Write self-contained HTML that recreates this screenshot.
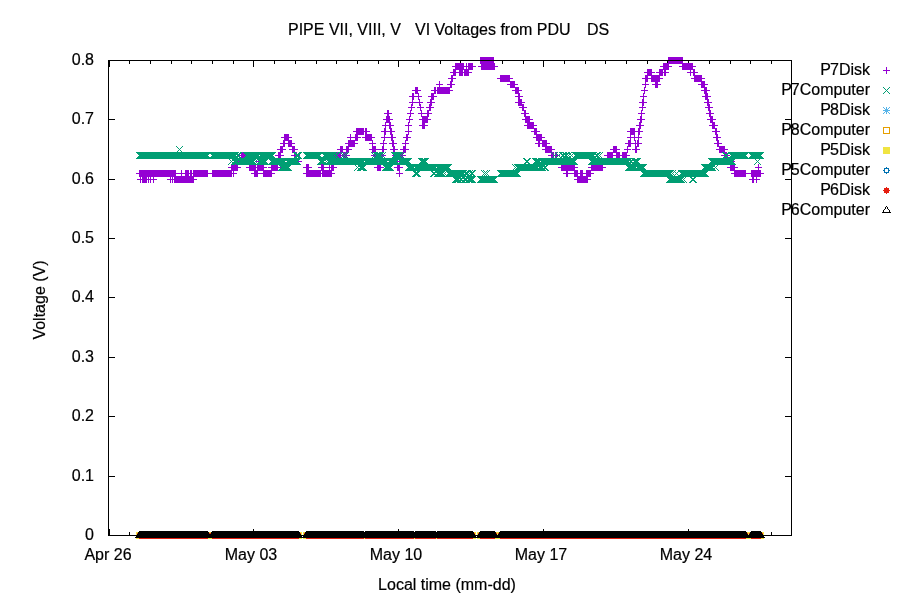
<!DOCTYPE html>
<html lang="en"><head><meta charset="utf-8"><title>PIPE Voltages from PDU</title>
<style>
html,body{margin:0;padding:0;background:#fff;}
body{width:900px;height:600px;position:relative;overflow:hidden;font-family:"Liberation Sans",Arial,sans-serif;font-size:16px;color:#000;}
.t{position:absolute;white-space:pre;line-height:20px;height:20px;-webkit-text-stroke:0.2px #000;}
.r{text-align:right;}
.lg::first-letter{letter-spacing:-1px;}
.c{text-align:center;}
</style></head><body>
<svg width="900" height="600" viewBox="0 0 900 600" shape-rendering="crispEdges" style="position:absolute;left:0;top:0"><path fill="#000000" d="M108 60h684v1h-684zM108 61h2v1h-2zM129 61h1v1h-1zM150 61h1v1h-1zM171 61h1v1h-1zM191 61h1v1h-1zM212 61h1v1h-1zM233 61h1v1h-1zM253 61h1v1h-1zM274 61h1v1h-1zM295 61h1v1h-1zM316 61h1v1h-1zM336 61h1v1h-1zM357 61h1v1h-1zM378 61h1v1h-1zM398 61h1v1h-1zM419 61h1v1h-1zM440 61h1v1h-1zM460 61h1v1h-1zM502 61h1v1h-1zM523 61h1v1h-1zM543 61h1v1h-1zM564 61h1v1h-1zM585 61h1v1h-1zM605 61h1v1h-1zM626 61h1v1h-1zM647 61h1v1h-1zM667 61h1v1h-1zM688 61h1v1h-1zM709 61h1v1h-1zM730 61h1v1h-1zM750 61h1v1h-1zM771 61h1v1h-1zM791 61h1v1h-1zM108 62h2v1h-2zM129 62h1v1h-1zM150 62h1v1h-1zM171 62h1v1h-1zM191 62h1v1h-1zM212 62h1v1h-1zM233 62h1v1h-1zM253 62h1v1h-1zM274 62h1v1h-1zM295 62h1v1h-1zM316 62h1v1h-1zM336 62h1v1h-1zM357 62h1v1h-1zM378 62h1v1h-1zM398 62h1v1h-1zM419 62h1v1h-1zM440 62h1v1h-1zM460 62h1v1h-1zM502 62h1v1h-1zM523 62h1v1h-1zM543 62h1v1h-1zM564 62h1v1h-1zM585 62h1v1h-1zM605 62h1v1h-1zM626 62h1v1h-1zM647 62h1v1h-1zM667 62h1v1h-1zM688 62h1v1h-1zM709 62h1v1h-1zM730 62h1v1h-1zM750 62h1v1h-1zM771 62h1v1h-1zM791 62h1v1h-1zM108 63h2v1h-2zM129 63h1v1h-1zM150 63h1v1h-1zM171 63h1v1h-1zM191 63h1v1h-1zM212 63h1v1h-1zM233 63h1v1h-1zM253 63h1v1h-1zM274 63h1v1h-1zM295 63h1v1h-1zM316 63h1v1h-1zM336 63h1v1h-1zM357 63h1v1h-1zM378 63h1v1h-1zM398 63h1v1h-1zM419 63h1v1h-1zM440 63h1v1h-1zM502 63h1v1h-1zM523 63h1v1h-1zM543 63h1v1h-1zM564 63h1v1h-1zM585 63h1v1h-1zM605 63h1v1h-1zM626 63h1v1h-1zM647 63h1v1h-1zM709 63h1v1h-1zM730 63h1v1h-1zM750 63h1v1h-1zM771 63h1v1h-1zM791 63h1v1h-1zM108 64h2v1h-2zM253 64h1v1h-1zM398 64h1v1h-1zM543 64h1v1h-1zM791 64h1v1h-1zM108 65h2v1h-2zM253 65h1v1h-1zM398 65h1v1h-1zM543 65h1v1h-1zM791 65h1v1h-1zM108 66h2v1h-2zM253 66h1v1h-1zM398 66h1v1h-1zM543 66h1v1h-1zM791 66h1v1h-1zM108 67h1v1h-1zM791 67h1v1h-1zM108 68h1v1h-1zM791 68h1v1h-1zM108 69h1v1h-1zM791 69h1v1h-1zM108 70h1v1h-1zM791 70h1v1h-1zM108 71h1v1h-1zM791 71h1v1h-1zM108 72h1v1h-1zM791 72h1v1h-1zM108 73h1v1h-1zM791 73h1v1h-1zM108 74h1v1h-1zM791 74h1v1h-1zM108 75h1v1h-1zM791 75h1v1h-1zM108 76h1v1h-1zM791 76h1v1h-1zM108 77h1v1h-1zM791 77h1v1h-1zM108 78h1v1h-1zM791 78h1v1h-1zM108 79h1v1h-1zM791 79h1v1h-1zM108 80h1v1h-1zM791 80h1v1h-1zM108 81h1v1h-1zM791 81h1v1h-1zM108 82h1v1h-1zM791 82h1v1h-1zM108 83h1v1h-1zM791 83h1v1h-1zM108 84h1v1h-1zM791 84h1v1h-1zM108 85h1v1h-1zM791 85h1v1h-1zM108 86h1v1h-1zM791 86h1v1h-1zM108 87h1v1h-1zM791 87h1v1h-1zM108 88h1v1h-1zM791 88h1v1h-1zM108 89h1v1h-1zM791 89h1v1h-1zM108 90h1v1h-1zM791 90h1v1h-1zM108 91h1v1h-1zM791 91h1v1h-1zM108 92h1v1h-1zM791 92h1v1h-1zM108 93h1v1h-1zM791 93h1v1h-1zM108 94h1v1h-1zM791 94h1v1h-1zM108 95h1v1h-1zM791 95h1v1h-1zM108 96h1v1h-1zM791 96h1v1h-1zM108 97h1v1h-1zM791 97h1v1h-1zM108 98h1v1h-1zM791 98h1v1h-1zM108 99h1v1h-1zM791 99h1v1h-1zM108 100h1v1h-1zM791 100h1v1h-1zM108 101h1v1h-1zM791 101h1v1h-1zM108 102h1v1h-1zM791 102h1v1h-1zM108 103h1v1h-1zM791 103h1v1h-1zM108 104h1v1h-1zM791 104h1v1h-1zM108 105h1v1h-1zM791 105h1v1h-1zM108 106h1v1h-1zM791 106h1v1h-1zM108 107h1v1h-1zM791 107h1v1h-1zM108 108h1v1h-1zM791 108h1v1h-1zM108 109h1v1h-1zM791 109h1v1h-1zM108 110h1v1h-1zM791 110h1v1h-1zM108 111h1v1h-1zM791 111h1v1h-1zM108 112h1v1h-1zM791 112h1v1h-1zM108 113h1v1h-1zM791 113h1v1h-1zM108 114h1v1h-1zM791 114h1v1h-1zM108 115h1v1h-1zM791 115h1v1h-1zM108 116h1v1h-1zM791 116h1v1h-1zM108 117h1v1h-1zM791 117h1v1h-1zM108 118h1v1h-1zM791 118h1v1h-1zM108 119h7v1h-7zM785 119h7v1h-7zM108 120h1v1h-1zM791 120h1v1h-1zM108 121h1v1h-1zM791 121h1v1h-1zM108 122h1v1h-1zM791 122h1v1h-1zM108 123h1v1h-1zM791 123h1v1h-1zM108 124h1v1h-1zM791 124h1v1h-1zM108 125h1v1h-1zM791 125h1v1h-1zM108 126h1v1h-1zM791 126h1v1h-1zM108 127h1v1h-1zM791 127h1v1h-1zM108 128h1v1h-1zM791 128h1v1h-1zM108 129h1v1h-1zM791 129h1v1h-1zM108 130h1v1h-1zM791 130h1v1h-1zM108 131h1v1h-1zM791 131h1v1h-1zM108 132h1v1h-1zM791 132h1v1h-1zM108 133h1v1h-1zM791 133h1v1h-1zM108 134h1v1h-1zM791 134h1v1h-1zM108 135h1v1h-1zM791 135h1v1h-1zM108 136h1v1h-1zM791 136h1v1h-1zM108 137h1v1h-1zM791 137h1v1h-1zM108 138h1v1h-1zM791 138h1v1h-1zM108 139h1v1h-1zM791 139h1v1h-1zM108 140h1v1h-1zM791 140h1v1h-1zM108 141h1v1h-1zM791 141h1v1h-1zM108 142h1v1h-1zM791 142h1v1h-1zM108 143h1v1h-1zM791 143h1v1h-1zM108 144h1v1h-1zM791 144h1v1h-1zM108 145h1v1h-1zM791 145h1v1h-1zM108 146h1v1h-1zM791 146h1v1h-1zM108 147h1v1h-1zM791 147h1v1h-1zM108 148h1v1h-1zM791 148h1v1h-1zM108 149h1v1h-1zM791 149h1v1h-1zM108 150h1v1h-1zM791 150h1v1h-1zM108 151h1v1h-1zM791 151h1v1h-1zM108 152h1v1h-1zM791 152h1v1h-1zM108 153h1v1h-1zM791 153h1v1h-1zM108 154h1v1h-1zM791 154h1v1h-1zM108 155h1v1h-1zM791 155h1v1h-1zM108 156h1v1h-1zM791 156h1v1h-1zM108 157h1v1h-1zM791 157h1v1h-1zM108 158h1v1h-1zM791 158h1v1h-1zM108 159h1v1h-1zM791 159h1v1h-1zM108 160h1v1h-1zM791 160h1v1h-1zM108 161h1v1h-1zM791 161h1v1h-1zM108 162h1v1h-1zM791 162h1v1h-1zM108 163h1v1h-1zM791 163h1v1h-1zM108 164h1v1h-1zM791 164h1v1h-1zM108 165h1v1h-1zM791 165h1v1h-1zM108 166h1v1h-1zM791 166h1v1h-1zM108 167h1v1h-1zM791 167h1v1h-1zM108 168h1v1h-1zM791 168h1v1h-1zM108 169h1v1h-1zM791 169h1v1h-1zM108 170h1v1h-1zM791 170h1v1h-1zM108 171h1v1h-1zM791 171h1v1h-1zM108 172h1v1h-1zM791 172h1v1h-1zM108 173h1v1h-1zM791 173h1v1h-1zM108 174h1v1h-1zM791 174h1v1h-1zM108 175h1v1h-1zM791 175h1v1h-1zM108 176h1v1h-1zM791 176h1v1h-1zM108 177h1v1h-1zM791 177h1v1h-1zM108 178h1v1h-1zM791 178h1v1h-1zM108 179h7v1h-7zM785 179h7v1h-7zM108 180h1v1h-1zM791 180h1v1h-1zM108 181h1v1h-1zM791 181h1v1h-1zM108 182h1v1h-1zM791 182h1v1h-1zM108 183h1v1h-1zM791 183h1v1h-1zM108 184h1v1h-1zM791 184h1v1h-1zM108 185h1v1h-1zM791 185h1v1h-1zM108 186h1v1h-1zM791 186h1v1h-1zM108 187h1v1h-1zM791 187h1v1h-1zM108 188h1v1h-1zM791 188h1v1h-1zM108 189h1v1h-1zM791 189h1v1h-1zM108 190h1v1h-1zM791 190h1v1h-1zM108 191h1v1h-1zM791 191h1v1h-1zM108 192h1v1h-1zM791 192h1v1h-1zM108 193h1v1h-1zM791 193h1v1h-1zM108 194h1v1h-1zM791 194h1v1h-1zM108 195h1v1h-1zM791 195h1v1h-1zM108 196h1v1h-1zM791 196h1v1h-1zM108 197h1v1h-1zM791 197h1v1h-1zM108 198h1v1h-1zM791 198h1v1h-1zM108 199h1v1h-1zM791 199h1v1h-1zM108 200h1v1h-1zM791 200h1v1h-1zM108 201h1v1h-1zM791 201h1v1h-1zM108 202h1v1h-1zM791 202h1v1h-1zM108 203h1v1h-1zM791 203h1v1h-1zM108 204h1v1h-1zM791 204h1v1h-1zM108 205h1v1h-1zM791 205h1v1h-1zM108 206h1v1h-1zM791 206h1v1h-1zM886 206h1v1h-1zM108 207h1v1h-1zM791 207h1v1h-1zM885 207h1v1h-1zM887 207h1v1h-1zM108 208h1v1h-1zM791 208h1v1h-1zM885 208h1v1h-1zM887 208h1v1h-1zM108 209h1v1h-1zM791 209h1v1h-1zM884 209h1v1h-1zM888 209h1v1h-1zM108 210h1v1h-1zM791 210h1v1h-1zM883 210h1v1h-1zM889 210h1v1h-1zM108 211h1v1h-1zM791 211h1v1h-1zM883 211h1v1h-1zM889 211h1v1h-1zM108 212h1v1h-1zM791 212h1v1h-1zM882 212h9v1h-9zM108 213h1v1h-1zM791 213h1v1h-1zM108 214h1v1h-1zM791 214h1v1h-1zM108 215h1v1h-1zM791 215h1v1h-1zM108 216h1v1h-1zM791 216h1v1h-1zM108 217h1v1h-1zM791 217h1v1h-1zM108 218h1v1h-1zM791 218h1v1h-1zM108 219h1v1h-1zM791 219h1v1h-1zM108 220h1v1h-1zM791 220h1v1h-1zM108 221h1v1h-1zM791 221h1v1h-1zM108 222h1v1h-1zM791 222h1v1h-1zM108 223h1v1h-1zM791 223h1v1h-1zM108 224h1v1h-1zM791 224h1v1h-1zM108 225h1v1h-1zM791 225h1v1h-1zM108 226h1v1h-1zM791 226h1v1h-1zM108 227h1v1h-1zM791 227h1v1h-1zM108 228h1v1h-1zM791 228h1v1h-1zM108 229h1v1h-1zM791 229h1v1h-1zM108 230h1v1h-1zM791 230h1v1h-1zM108 231h1v1h-1zM791 231h1v1h-1zM108 232h1v1h-1zM791 232h1v1h-1zM108 233h1v1h-1zM791 233h1v1h-1zM108 234h1v1h-1zM791 234h1v1h-1zM108 235h1v1h-1zM791 235h1v1h-1zM108 236h1v1h-1zM791 236h1v1h-1zM108 237h1v1h-1zM791 237h1v1h-1zM108 238h7v1h-7zM785 238h7v1h-7zM108 239h1v1h-1zM791 239h1v1h-1zM108 240h1v1h-1zM791 240h1v1h-1zM108 241h1v1h-1zM791 241h1v1h-1zM108 242h1v1h-1zM791 242h1v1h-1zM108 243h1v1h-1zM791 243h1v1h-1zM108 244h1v1h-1zM791 244h1v1h-1zM108 245h1v1h-1zM791 245h1v1h-1zM108 246h1v1h-1zM791 246h1v1h-1zM108 247h1v1h-1zM791 247h1v1h-1zM108 248h1v1h-1zM791 248h1v1h-1zM108 249h1v1h-1zM791 249h1v1h-1zM108 250h1v1h-1zM791 250h1v1h-1zM108 251h1v1h-1zM791 251h1v1h-1zM108 252h1v1h-1zM791 252h1v1h-1zM108 253h1v1h-1zM791 253h1v1h-1zM108 254h1v1h-1zM791 254h1v1h-1zM108 255h1v1h-1zM791 255h1v1h-1zM108 256h1v1h-1zM791 256h1v1h-1zM108 257h1v1h-1zM791 257h1v1h-1zM108 258h1v1h-1zM791 258h1v1h-1zM108 259h1v1h-1zM791 259h1v1h-1zM108 260h1v1h-1zM791 260h1v1h-1zM108 261h1v1h-1zM791 261h1v1h-1zM108 262h1v1h-1zM791 262h1v1h-1zM108 263h1v1h-1zM791 263h1v1h-1zM108 264h1v1h-1zM791 264h1v1h-1zM108 265h1v1h-1zM791 265h1v1h-1zM108 266h1v1h-1zM791 266h1v1h-1zM108 267h1v1h-1zM791 267h1v1h-1zM108 268h1v1h-1zM791 268h1v1h-1zM108 269h1v1h-1zM791 269h1v1h-1zM108 270h1v1h-1zM791 270h1v1h-1zM108 271h1v1h-1zM791 271h1v1h-1zM108 272h1v1h-1zM791 272h1v1h-1zM108 273h1v1h-1zM791 273h1v1h-1zM108 274h1v1h-1zM791 274h1v1h-1zM108 275h1v1h-1zM791 275h1v1h-1zM108 276h1v1h-1zM791 276h1v1h-1zM108 277h1v1h-1zM791 277h1v1h-1zM108 278h1v1h-1zM791 278h1v1h-1zM108 279h1v1h-1zM791 279h1v1h-1zM108 280h1v1h-1zM791 280h1v1h-1zM108 281h1v1h-1zM791 281h1v1h-1zM108 282h1v1h-1zM791 282h1v1h-1zM108 283h1v1h-1zM791 283h1v1h-1zM108 284h1v1h-1zM791 284h1v1h-1zM108 285h1v1h-1zM791 285h1v1h-1zM108 286h1v1h-1zM791 286h1v1h-1zM108 287h1v1h-1zM791 287h1v1h-1zM108 288h1v1h-1zM791 288h1v1h-1zM108 289h1v1h-1zM791 289h1v1h-1zM108 290h1v1h-1zM791 290h1v1h-1zM108 291h1v1h-1zM791 291h1v1h-1zM108 292h1v1h-1zM791 292h1v1h-1zM108 293h1v1h-1zM791 293h1v1h-1zM108 294h1v1h-1zM791 294h1v1h-1zM108 295h1v1h-1zM791 295h1v1h-1zM108 296h1v1h-1zM791 296h1v1h-1zM108 297h7v1h-7zM785 297h7v1h-7zM108 298h1v1h-1zM791 298h1v1h-1zM108 299h1v1h-1zM791 299h1v1h-1zM108 300h1v1h-1zM791 300h1v1h-1zM108 301h1v1h-1zM791 301h1v1h-1zM108 302h1v1h-1zM791 302h1v1h-1zM108 303h1v1h-1zM791 303h1v1h-1zM108 304h1v1h-1zM791 304h1v1h-1zM108 305h1v1h-1zM791 305h1v1h-1zM108 306h1v1h-1zM791 306h1v1h-1zM108 307h1v1h-1zM791 307h1v1h-1zM108 308h1v1h-1zM791 308h1v1h-1zM108 309h1v1h-1zM791 309h1v1h-1zM108 310h1v1h-1zM791 310h1v1h-1zM108 311h1v1h-1zM791 311h1v1h-1zM108 312h1v1h-1zM791 312h1v1h-1zM108 313h1v1h-1zM791 313h1v1h-1zM108 314h1v1h-1zM791 314h1v1h-1zM108 315h1v1h-1zM791 315h1v1h-1zM108 316h1v1h-1zM791 316h1v1h-1zM108 317h1v1h-1zM791 317h1v1h-1zM108 318h1v1h-1zM791 318h1v1h-1zM108 319h1v1h-1zM791 319h1v1h-1zM108 320h1v1h-1zM791 320h1v1h-1zM108 321h1v1h-1zM791 321h1v1h-1zM108 322h1v1h-1zM791 322h1v1h-1zM108 323h1v1h-1zM791 323h1v1h-1zM108 324h1v1h-1zM791 324h1v1h-1zM108 325h1v1h-1zM791 325h1v1h-1zM108 326h1v1h-1zM791 326h1v1h-1zM108 327h1v1h-1zM791 327h1v1h-1zM108 328h1v1h-1zM791 328h1v1h-1zM108 329h1v1h-1zM791 329h1v1h-1zM108 330h1v1h-1zM791 330h1v1h-1zM108 331h1v1h-1zM791 331h1v1h-1zM108 332h1v1h-1zM791 332h1v1h-1zM108 333h1v1h-1zM791 333h1v1h-1zM108 334h1v1h-1zM791 334h1v1h-1zM108 335h1v1h-1zM791 335h1v1h-1zM108 336h1v1h-1zM791 336h1v1h-1zM108 337h1v1h-1zM791 337h1v1h-1zM108 338h1v1h-1zM791 338h1v1h-1zM108 339h1v1h-1zM791 339h1v1h-1zM108 340h1v1h-1zM791 340h1v1h-1zM108 341h1v1h-1zM791 341h1v1h-1zM108 342h1v1h-1zM791 342h1v1h-1zM108 343h1v1h-1zM791 343h1v1h-1zM108 344h1v1h-1zM791 344h1v1h-1zM108 345h1v1h-1zM791 345h1v1h-1zM108 346h1v1h-1zM791 346h1v1h-1zM108 347h1v1h-1zM791 347h1v1h-1zM108 348h1v1h-1zM791 348h1v1h-1zM108 349h1v1h-1zM791 349h1v1h-1zM108 350h1v1h-1zM791 350h1v1h-1zM108 351h1v1h-1zM791 351h1v1h-1zM108 352h1v1h-1zM791 352h1v1h-1zM108 353h1v1h-1zM791 353h1v1h-1zM108 354h1v1h-1zM791 354h1v1h-1zM108 355h1v1h-1zM791 355h1v1h-1zM108 356h1v1h-1zM791 356h1v1h-1zM108 357h7v1h-7zM785 357h7v1h-7zM108 358h1v1h-1zM791 358h1v1h-1zM108 359h1v1h-1zM791 359h1v1h-1zM108 360h1v1h-1zM791 360h1v1h-1zM108 361h1v1h-1zM791 361h1v1h-1zM108 362h1v1h-1zM791 362h1v1h-1zM108 363h1v1h-1zM791 363h1v1h-1zM108 364h1v1h-1zM791 364h1v1h-1zM108 365h1v1h-1zM791 365h1v1h-1zM108 366h1v1h-1zM791 366h1v1h-1zM108 367h1v1h-1zM791 367h1v1h-1zM108 368h1v1h-1zM791 368h1v1h-1zM108 369h1v1h-1zM791 369h1v1h-1zM108 370h1v1h-1zM791 370h1v1h-1zM108 371h1v1h-1zM791 371h1v1h-1zM108 372h1v1h-1zM791 372h1v1h-1zM108 373h1v1h-1zM791 373h1v1h-1zM108 374h1v1h-1zM791 374h1v1h-1zM108 375h1v1h-1zM791 375h1v1h-1zM108 376h1v1h-1zM791 376h1v1h-1zM108 377h1v1h-1zM791 377h1v1h-1zM108 378h1v1h-1zM791 378h1v1h-1zM108 379h1v1h-1zM791 379h1v1h-1zM108 380h1v1h-1zM791 380h1v1h-1zM108 381h1v1h-1zM791 381h1v1h-1zM108 382h1v1h-1zM791 382h1v1h-1zM108 383h1v1h-1zM791 383h1v1h-1zM108 384h1v1h-1zM791 384h1v1h-1zM108 385h1v1h-1zM791 385h1v1h-1zM108 386h1v1h-1zM791 386h1v1h-1zM108 387h1v1h-1zM791 387h1v1h-1zM108 388h1v1h-1zM791 388h1v1h-1zM108 389h1v1h-1zM791 389h1v1h-1zM108 390h1v1h-1zM791 390h1v1h-1zM108 391h1v1h-1zM791 391h1v1h-1zM108 392h1v1h-1zM791 392h1v1h-1zM108 393h1v1h-1zM791 393h1v1h-1zM108 394h1v1h-1zM791 394h1v1h-1zM108 395h1v1h-1zM791 395h1v1h-1zM108 396h1v1h-1zM791 396h1v1h-1zM108 397h1v1h-1zM791 397h1v1h-1zM108 398h1v1h-1zM791 398h1v1h-1zM108 399h1v1h-1zM791 399h1v1h-1zM108 400h1v1h-1zM791 400h1v1h-1zM108 401h1v1h-1zM791 401h1v1h-1zM108 402h1v1h-1zM791 402h1v1h-1zM108 403h1v1h-1zM791 403h1v1h-1zM108 404h1v1h-1zM791 404h1v1h-1zM108 405h1v1h-1zM791 405h1v1h-1zM108 406h1v1h-1zM791 406h1v1h-1zM108 407h1v1h-1zM791 407h1v1h-1zM108 408h1v1h-1zM791 408h1v1h-1zM108 409h1v1h-1zM791 409h1v1h-1zM108 410h1v1h-1zM791 410h1v1h-1zM108 411h1v1h-1zM791 411h1v1h-1zM108 412h1v1h-1zM791 412h1v1h-1zM108 413h1v1h-1zM791 413h1v1h-1zM108 414h1v1h-1zM791 414h1v1h-1zM108 415h1v1h-1zM791 415h1v1h-1zM108 416h7v1h-7zM785 416h7v1h-7zM108 417h1v1h-1zM791 417h1v1h-1zM108 418h1v1h-1zM791 418h1v1h-1zM108 419h1v1h-1zM791 419h1v1h-1zM108 420h1v1h-1zM791 420h1v1h-1zM108 421h1v1h-1zM791 421h1v1h-1zM108 422h1v1h-1zM791 422h1v1h-1zM108 423h1v1h-1zM791 423h1v1h-1zM108 424h1v1h-1zM791 424h1v1h-1zM108 425h1v1h-1zM791 425h1v1h-1zM108 426h1v1h-1zM791 426h1v1h-1zM108 427h1v1h-1zM791 427h1v1h-1zM108 428h1v1h-1zM791 428h1v1h-1zM108 429h1v1h-1zM791 429h1v1h-1zM108 430h1v1h-1zM791 430h1v1h-1zM108 431h1v1h-1zM791 431h1v1h-1zM108 432h1v1h-1zM791 432h1v1h-1zM108 433h1v1h-1zM791 433h1v1h-1zM108 434h1v1h-1zM791 434h1v1h-1zM108 435h1v1h-1zM791 435h1v1h-1zM108 436h1v1h-1zM791 436h1v1h-1zM108 437h1v1h-1zM791 437h1v1h-1zM108 438h1v1h-1zM791 438h1v1h-1zM108 439h1v1h-1zM791 439h1v1h-1zM108 440h1v1h-1zM791 440h1v1h-1zM108 441h1v1h-1zM791 441h1v1h-1zM108 442h1v1h-1zM791 442h1v1h-1zM108 443h1v1h-1zM791 443h1v1h-1zM108 444h1v1h-1zM791 444h1v1h-1zM108 445h1v1h-1zM791 445h1v1h-1zM108 446h1v1h-1zM791 446h1v1h-1zM108 447h1v1h-1zM791 447h1v1h-1zM108 448h1v1h-1zM791 448h1v1h-1zM108 449h1v1h-1zM791 449h1v1h-1zM108 450h1v1h-1zM791 450h1v1h-1zM108 451h1v1h-1zM791 451h1v1h-1zM108 452h1v1h-1zM791 452h1v1h-1zM108 453h1v1h-1zM791 453h1v1h-1zM108 454h1v1h-1zM791 454h1v1h-1zM108 455h1v1h-1zM791 455h1v1h-1zM108 456h1v1h-1zM791 456h1v1h-1zM108 457h1v1h-1zM791 457h1v1h-1zM108 458h1v1h-1zM791 458h1v1h-1zM108 459h1v1h-1zM791 459h1v1h-1zM108 460h1v1h-1zM791 460h1v1h-1zM108 461h1v1h-1zM791 461h1v1h-1zM108 462h1v1h-1zM791 462h1v1h-1zM108 463h1v1h-1zM791 463h1v1h-1zM108 464h1v1h-1zM791 464h1v1h-1zM108 465h1v1h-1zM791 465h1v1h-1zM108 466h1v1h-1zM791 466h1v1h-1zM108 467h1v1h-1zM791 467h1v1h-1zM108 468h1v1h-1zM791 468h1v1h-1zM108 469h1v1h-1zM791 469h1v1h-1zM108 470h1v1h-1zM791 470h1v1h-1zM108 471h1v1h-1zM791 471h1v1h-1zM108 472h1v1h-1zM791 472h1v1h-1zM108 473h1v1h-1zM791 473h1v1h-1zM108 474h1v1h-1zM791 474h1v1h-1zM108 475h1v1h-1zM791 475h1v1h-1zM108 476h7v1h-7zM785 476h7v1h-7zM108 477h1v1h-1zM791 477h1v1h-1zM108 478h1v1h-1zM791 478h1v1h-1zM108 479h1v1h-1zM791 479h1v1h-1zM108 480h1v1h-1zM791 480h1v1h-1zM108 481h1v1h-1zM791 481h1v1h-1zM108 482h1v1h-1zM791 482h1v1h-1zM108 483h1v1h-1zM791 483h1v1h-1zM108 484h1v1h-1zM791 484h1v1h-1zM108 485h1v1h-1zM791 485h1v1h-1zM108 486h1v1h-1zM791 486h1v1h-1zM108 487h1v1h-1zM791 487h1v1h-1zM108 488h1v1h-1zM791 488h1v1h-1zM108 489h1v1h-1zM791 489h1v1h-1zM108 490h1v1h-1zM791 490h1v1h-1zM108 491h1v1h-1zM791 491h1v1h-1zM108 492h1v1h-1zM791 492h1v1h-1zM108 493h1v1h-1zM791 493h1v1h-1zM108 494h1v1h-1zM791 494h1v1h-1zM108 495h1v1h-1zM791 495h1v1h-1zM108 496h1v1h-1zM791 496h1v1h-1zM108 497h1v1h-1zM791 497h1v1h-1zM108 498h1v1h-1zM791 498h1v1h-1zM108 499h1v1h-1zM791 499h1v1h-1zM108 500h1v1h-1zM791 500h1v1h-1zM108 501h1v1h-1zM791 501h1v1h-1zM108 502h1v1h-1zM791 502h1v1h-1zM108 503h1v1h-1zM791 503h1v1h-1zM108 504h1v1h-1zM791 504h1v1h-1zM108 505h1v1h-1zM791 505h1v1h-1zM108 506h1v1h-1zM791 506h1v1h-1zM108 507h1v1h-1zM791 507h1v1h-1zM108 508h1v1h-1zM791 508h1v1h-1zM108 509h1v1h-1zM791 509h1v1h-1zM108 510h1v1h-1zM791 510h1v1h-1zM108 511h1v1h-1zM791 511h1v1h-1zM108 512h1v1h-1zM791 512h1v1h-1zM108 513h1v1h-1zM791 513h1v1h-1zM108 514h1v1h-1zM791 514h1v1h-1zM108 515h1v1h-1zM791 515h1v1h-1zM108 516h1v1h-1zM791 516h1v1h-1zM108 517h1v1h-1zM791 517h1v1h-1zM108 518h1v1h-1zM791 518h1v1h-1zM108 519h1v1h-1zM791 519h1v1h-1zM108 520h1v1h-1zM791 520h1v1h-1zM108 521h1v1h-1zM791 521h1v1h-1zM108 522h1v1h-1zM791 522h1v1h-1zM108 523h1v1h-1zM791 523h1v1h-1zM108 524h1v1h-1zM791 524h1v1h-1zM108 525h1v1h-1zM791 525h1v1h-1zM108 526h1v1h-1zM791 526h1v1h-1zM108 527h1v1h-1zM791 527h1v1h-1zM108 528h1v1h-1zM791 528h1v1h-1zM108 529h2v1h-2zM253 529h1v1h-1zM398 529h1v1h-1zM543 529h1v1h-1zM688 529h1v1h-1zM791 529h1v1h-1zM108 530h2v1h-2zM253 530h1v1h-1zM398 530h1v1h-1zM543 530h1v1h-1zM688 530h1v1h-1zM791 530h1v1h-1zM108 531h2v1h-2zM139 531h69v1h-69zM212 531h87v1h-87zM306 531h58v1h-58zM365 531h49v1h-49zM415 531h21v1h-21zM437 531h36v1h-36zM480 531h15v1h-15zM500 531h246v1h-246zM751 531h10v1h-10zM791 531h1v1h-1zM108 532h2v1h-2zM129 532h1v1h-1zM138 532h71v1h-71zM211 532h89v1h-89zM305 532h169v1h-169zM479 532h17v1h-17zM499 532h248v1h-248zM750 532h12v1h-12zM771 532h1v1h-1zM791 532h1v1h-1zM108 533h2v1h-2zM129 533h1v1h-1zM138 533h71v1h-71zM211 533h89v1h-89zM305 533h169v1h-169zM479 533h17v1h-17zM499 533h248v1h-248zM750 533h12v1h-12zM771 533h1v1h-1zM791 533h1v1h-1zM108 534h2v1h-2zM129 534h1v1h-1zM137 534h164v1h-164zM304 534h171v1h-171zM478 534h19v1h-19zM498 534h250v1h-250zM749 534h14v1h-14zM771 534h1v1h-1zM791 534h1v1h-1zM108 535h684v1h-684zM136 536h166v1h-166zM303 536h173v1h-173zM477 536h287v1h-287zM135 537h630v1h-630z"/><path fill="#9400D3" d="M480 57h14v1h-14zM668 57h15v1h-15zM480 58h14v1h-14zM668 58h15v1h-15zM480 59h14v1h-14zM668 59h15v1h-15zM480 61h14v1h-14zM668 61h15v1h-15zM480 62h14v1h-14zM668 62h15v1h-15zM455 63h9v1h-9zM466 63h1v1h-1zM468 63h5v1h-5zM480 63h15v1h-15zM663 63h30v1h-30zM455 64h9v1h-9zM466 64h1v1h-1zM468 64h5v1h-5zM481 64h14v1h-14zM663 64h6v1h-6zM682 64h11v1h-11zM455 65h9v1h-9zM466 65h1v1h-1zM468 65h5v1h-5zM481 65h14v1h-14zM663 65h6v1h-6zM682 65h11v1h-11zM452 66h24v1h-24zM478 66h20v1h-20zM660 66h12v1h-12zM679 66h17v1h-17zM455 67h9v1h-9zM466 67h1v1h-1zM468 67h5v1h-5zM481 67h14v1h-14zM663 67h6v1h-6zM682 67h11v1h-11zM886 67h1v1h-1zM455 68h9v1h-9zM466 68h1v1h-1zM468 68h5v1h-5zM481 68h14v1h-14zM663 68h6v1h-6zM682 68h11v1h-11zM886 68h1v1h-1zM453 69h20v1h-20zM481 69h14v1h-14zM647 69h5v1h-5zM659 69h10v1h-10zM682 69h13v1h-13zM886 69h1v1h-1zM453 70h3v1h-3zM459 70h4v1h-4zM464 70h5v1h-5zM647 70h5v1h-5zM659 70h4v1h-4zM664 70h2v1h-2zM690 70h1v1h-1zM693 70h2v1h-2zM883 70h7v1h-7zM453 71h3v1h-3zM459 71h4v1h-4zM464 71h5v1h-5zM647 71h5v1h-5zM659 71h4v1h-4zM664 71h2v1h-2zM690 71h1v1h-1zM693 71h2v1h-2zM886 71h1v1h-1zM450 72h22v1h-22zM644 72h11v1h-11zM656 72h13v1h-13zM687 72h11v1h-11zM886 72h1v1h-1zM453 73h3v1h-3zM459 73h4v1h-4zM464 73h5v1h-5zM647 73h5v1h-5zM659 73h4v1h-4zM664 73h2v1h-2zM690 73h1v1h-1zM693 73h2v1h-2zM886 73h1v1h-1zM453 74h3v1h-3zM459 74h4v1h-4zM464 74h5v1h-5zM647 74h5v1h-5zM659 74h4v1h-4zM664 74h2v1h-2zM690 74h1v1h-1zM693 74h2v1h-2zM451 75h5v1h-5zM459 75h4v1h-4zM464 75h5v1h-5zM500 75h10v1h-10zM645 75h18v1h-18zM664 75h2v1h-2zM690 75h1v1h-1zM693 75h9v1h-9zM451 76h2v1h-2zM500 76h10v1h-10zM645 76h3v1h-3zM651 76h9v1h-9zM694 76h8v1h-8zM451 77h2v1h-2zM500 77h10v1h-10zM645 77h3v1h-3zM651 77h9v1h-9zM694 77h8v1h-8zM448 78h8v1h-8zM497 78h16v1h-16zM642 78h21v1h-21zM691 78h14v1h-14zM451 79h2v1h-2zM500 79h10v1h-10zM645 79h3v1h-3zM651 79h9v1h-9zM694 79h8v1h-8zM451 80h2v1h-2zM500 80h10v1h-10zM645 80h3v1h-3zM651 80h9v1h-9zM694 80h8v1h-8zM439 81h1v1h-1zM450 81h3v1h-3zM500 81h15v1h-15zM645 81h3v1h-3zM651 81h9v1h-9zM694 81h11v1h-11zM439 82h1v1h-1zM450 82h2v1h-2zM510 82h5v1h-5zM645 82h1v1h-1zM655 82h3v1h-3zM701 82h4v1h-4zM439 83h1v1h-1zM450 83h2v1h-2zM510 83h5v1h-5zM645 83h1v1h-1zM655 83h3v1h-3zM701 83h4v1h-4zM436 84h7v1h-7zM447 84h8v1h-8zM507 84h11v1h-11zM642 84h7v1h-7zM652 84h9v1h-9zM698 84h10v1h-10zM439 85h1v1h-1zM450 85h2v1h-2zM510 85h5v1h-5zM645 85h1v1h-1zM655 85h3v1h-3zM701 85h4v1h-4zM439 86h1v1h-1zM450 86h2v1h-2zM510 86h5v1h-5zM645 86h1v1h-1zM655 86h3v1h-3zM701 86h4v1h-4zM415 87h3v1h-3zM434 87h2v1h-2zM437 87h15v1h-15zM510 87h9v1h-9zM644 87h2v1h-2zM655 87h3v1h-3zM701 87h6v1h-6zM415 88h3v1h-3zM434 88h2v1h-2zM437 88h13v1h-13zM515 88h4v1h-4zM644 88h1v1h-1zM704 88h3v1h-3zM415 89h3v1h-3zM434 89h2v1h-2zM437 89h13v1h-13zM515 89h4v1h-4zM644 89h1v1h-1zM704 89h3v1h-3zM412 90h9v1h-9zM431 90h22v1h-22zM512 90h10v1h-10zM641 90h7v1h-7zM701 90h9v1h-9zM415 91h3v1h-3zM434 91h2v1h-2zM437 91h13v1h-13zM515 91h4v1h-4zM644 91h1v1h-1zM704 91h3v1h-3zM415 92h3v1h-3zM434 92h2v1h-2zM437 92h13v1h-13zM515 92h4v1h-4zM644 92h1v1h-1zM704 92h3v1h-3zM412 93h2v1h-2zM415 93h4v1h-4zM431 93h5v1h-5zM437 93h13v1h-13zM515 93h5v1h-5zM643 93h2v1h-2zM704 93h4v1h-4zM412 94h2v1h-2zM418 94h1v1h-1zM431 94h3v1h-3zM518 94h2v1h-2zM643 94h1v1h-1zM705 94h3v1h-3zM412 95h2v1h-2zM418 95h1v1h-1zM431 95h3v1h-3zM518 95h2v1h-2zM643 95h1v1h-1zM705 95h3v1h-3zM409 96h13v1h-13zM428 96h9v1h-9zM515 96h8v1h-8zM640 96h7v1h-7zM702 96h9v1h-9zM412 97h2v1h-2zM418 97h1v1h-1zM431 97h3v1h-3zM518 97h2v1h-2zM643 97h1v1h-1zM705 97h3v1h-3zM412 98h2v1h-2zM418 98h1v1h-1zM431 98h3v1h-3zM518 98h2v1h-2zM643 98h1v1h-1zM705 98h3v1h-3zM412 99h2v1h-2zM418 99h2v1h-2zM430 99h4v1h-4zM518 99h4v1h-4zM642 99h2v1h-2zM705 99h4v1h-4zM412 100h1v1h-1zM419 100h1v1h-1zM430 100h2v1h-2zM518 100h4v1h-4zM642 100h2v1h-2zM707 100h2v1h-2zM412 101h1v1h-1zM419 101h1v1h-1zM430 101h2v1h-2zM518 101h4v1h-4zM642 101h2v1h-2zM707 101h2v1h-2zM409 102h14v1h-14zM427 102h8v1h-8zM515 102h10v1h-10zM639 102h8v1h-8zM704 102h8v1h-8zM412 103h1v1h-1zM419 103h1v1h-1zM430 103h2v1h-2zM518 103h4v1h-4zM642 103h2v1h-2zM707 103h2v1h-2zM411 104h2v1h-2zM419 104h2v1h-2zM429 104h3v1h-3zM518 104h6v1h-6zM642 104h2v1h-2zM707 104h3v1h-3zM411 105h2v1h-2zM419 105h2v1h-2zM429 105h3v1h-3zM518 105h6v1h-6zM642 105h2v1h-2zM707 105h3v1h-3zM411 106h1v1h-1zM420 106h1v1h-1zM429 106h2v1h-2zM522 106h2v1h-2zM642 106h1v1h-1zM708 106h2v1h-2zM408 107h7v1h-7zM417 107h7v1h-7zM426 107h8v1h-8zM519 107h8v1h-8zM639 107h7v1h-7zM705 107h8v1h-8zM411 108h1v1h-1zM420 108h1v1h-1zM429 108h2v1h-2zM522 108h2v1h-2zM642 108h1v1h-1zM708 108h2v1h-2zM411 109h1v1h-1zM420 109h1v1h-1zM429 109h2v1h-2zM522 109h2v1h-2zM642 109h1v1h-1zM708 109h2v1h-2zM387 110h2v1h-2zM410 110h2v1h-2zM420 110h2v1h-2zM427 110h4v1h-4zM522 110h4v1h-4zM641 110h2v1h-2zM708 110h3v1h-3zM387 111h2v1h-2zM410 111h1v1h-1zM421 111h1v1h-1zM427 111h2v1h-2zM524 111h2v1h-2zM641 111h1v1h-1zM709 111h2v1h-2zM387 112h2v1h-2zM410 112h1v1h-1zM421 112h1v1h-1zM427 112h2v1h-2zM524 112h2v1h-2zM641 112h1v1h-1zM709 112h2v1h-2zM384 113h8v1h-8zM407 113h7v1h-7zM418 113h14v1h-14zM521 113h8v1h-8zM638 113h7v1h-7zM706 113h8v1h-8zM387 114h2v1h-2zM410 114h1v1h-1zM421 114h1v1h-1zM427 114h2v1h-2zM524 114h2v1h-2zM641 114h1v1h-1zM709 114h2v1h-2zM387 115h2v1h-2zM410 115h1v1h-1zM421 115h1v1h-1zM427 115h2v1h-2zM524 115h2v1h-2zM641 115h1v1h-1zM709 115h2v1h-2zM386 116h4v1h-4zM409 116h2v1h-2zM421 116h8v1h-8zM524 116h6v1h-6zM640 116h2v1h-2zM709 116h4v1h-4zM386 117h4v1h-4zM409 117h1v1h-1zM422 117h6v1h-6zM525 117h5v1h-5zM640 117h2v1h-2zM710 117h3v1h-3zM386 118h4v1h-4zM409 118h1v1h-1zM422 118h6v1h-6zM525 118h5v1h-5zM640 118h2v1h-2zM710 118h3v1h-3zM383 119h10v1h-10zM406 119h7v1h-7zM419 119h12v1h-12zM522 119h11v1h-11zM637 119h8v1h-8zM707 119h9v1h-9zM386 120h4v1h-4zM409 120h1v1h-1zM422 120h6v1h-6zM525 120h5v1h-5zM640 120h2v1h-2zM710 120h3v1h-3zM386 121h4v1h-4zM409 121h1v1h-1zM422 121h6v1h-6zM525 121h5v1h-5zM640 121h2v1h-2zM710 121h3v1h-3zM385 122h6v1h-6zM408 122h2v1h-2zM422 122h6v1h-6zM525 122h9v1h-9zM639 122h3v1h-3zM710 122h5v1h-5zM385 123h1v1h-1zM389 123h2v1h-2zM408 123h1v1h-1zM422 123h3v1h-3zM527 123h7v1h-7zM639 123h2v1h-2zM712 123h3v1h-3zM385 124h1v1h-1zM389 124h2v1h-2zM408 124h1v1h-1zM422 124h3v1h-3zM527 124h7v1h-7zM639 124h2v1h-2zM712 124h3v1h-3zM382 125h12v1h-12zM405 125h7v1h-7zM419 125h9v1h-9zM524 125h13v1h-13zM636 125h8v1h-8zM709 125h9v1h-9zM385 126h1v1h-1zM389 126h2v1h-2zM408 126h1v1h-1zM422 126h3v1h-3zM527 126h7v1h-7zM639 126h2v1h-2zM712 126h3v1h-3zM385 127h1v1h-1zM389 127h2v1h-2zM408 127h1v1h-1zM422 127h3v1h-3zM527 127h7v1h-7zM639 127h2v1h-2zM712 127h3v1h-3zM356 128h8v1h-8zM365 128h2v1h-2zM384 128h2v1h-2zM389 128h3v1h-3zM408 128h1v1h-1zM422 128h3v1h-3zM527 128h10v1h-10zM630 128h5v1h-5zM638 128h3v1h-3zM712 128h5v1h-5zM356 129h8v1h-8zM365 129h2v1h-2zM384 129h2v1h-2zM390 129h2v1h-2zM408 129h1v1h-1zM534 129h3v1h-3zM630 129h5v1h-5zM638 129h2v1h-2zM715 129h2v1h-2zM356 130h8v1h-8zM365 130h2v1h-2zM384 130h2v1h-2zM390 130h2v1h-2zM408 130h1v1h-1zM534 130h3v1h-3zM630 130h5v1h-5zM638 130h2v1h-2zM715 130h2v1h-2zM353 131h17v1h-17zM381 131h14v1h-14zM405 131h7v1h-7zM531 131h9v1h-9zM627 131h16v1h-16zM712 131h8v1h-8zM356 132h8v1h-8zM365 132h2v1h-2zM384 132h2v1h-2zM390 132h2v1h-2zM408 132h1v1h-1zM534 132h3v1h-3zM630 132h5v1h-5zM638 132h2v1h-2zM715 132h2v1h-2zM356 133h8v1h-8zM365 133h2v1h-2zM384 133h2v1h-2zM390 133h2v1h-2zM408 133h1v1h-1zM534 133h3v1h-3zM630 133h5v1h-5zM638 133h2v1h-2zM715 133h2v1h-2zM284 134h5v1h-5zM350 134h1v1h-1zM355 134h9v1h-9zM365 134h7v1h-7zM384 134h2v1h-2zM390 134h3v1h-3zM406 134h3v1h-3zM534 134h8v1h-8zM630 134h5v1h-5zM638 134h2v1h-2zM715 134h3v1h-3zM284 135h5v1h-5zM350 135h1v1h-1zM355 135h3v1h-3zM365 135h7v1h-7zM384 135h1v1h-1zM391 135h2v1h-2zM406 135h2v1h-2zM536 135h6v1h-6zM630 135h1v1h-1zM634 135h1v1h-1zM638 135h1v1h-1zM716 135h2v1h-2zM284 136h5v1h-5zM350 136h1v1h-1zM355 136h3v1h-3zM365 136h7v1h-7zM384 136h1v1h-1zM391 136h2v1h-2zM406 136h2v1h-2zM536 136h6v1h-6zM630 136h1v1h-1zM634 136h1v1h-1zM638 136h1v1h-1zM716 136h2v1h-2zM281 137h11v1h-11zM347 137h14v1h-14zM362 137h13v1h-13zM381 137h15v1h-15zM403 137h8v1h-8zM533 137h12v1h-12zM627 137h15v1h-15zM713 137h8v1h-8zM284 138h5v1h-5zM350 138h1v1h-1zM355 138h3v1h-3zM365 138h7v1h-7zM384 138h1v1h-1zM391 138h2v1h-2zM406 138h2v1h-2zM536 138h6v1h-6zM630 138h1v1h-1zM634 138h1v1h-1zM638 138h1v1h-1zM716 138h2v1h-2zM284 139h5v1h-5zM350 139h1v1h-1zM355 139h3v1h-3zM365 139h7v1h-7zM384 139h1v1h-1zM391 139h2v1h-2zM406 139h2v1h-2zM536 139h6v1h-6zM630 139h1v1h-1zM634 139h1v1h-1zM638 139h1v1h-1zM716 139h2v1h-2zM283 140h9v1h-9zM348 140h10v1h-10zM365 140h8v1h-8zM383 140h2v1h-2zM391 140h3v1h-3zM405 140h3v1h-3zM536 140h11v1h-11zM628 140h3v1h-3zM634 140h2v1h-2zM637 140h2v1h-2zM716 140h3v1h-3zM283 141h2v1h-2zM288 141h4v1h-4zM348 141h7v1h-7zM372 141h1v1h-1zM383 141h1v1h-1zM392 141h2v1h-2zM405 141h1v1h-1zM538 141h2v1h-2zM542 141h5v1h-5zM628 141h3v1h-3zM635 141h1v1h-1zM637 141h2v1h-2zM717 141h2v1h-2zM283 142h2v1h-2zM288 142h4v1h-4zM348 142h7v1h-7zM372 142h1v1h-1zM383 142h1v1h-1zM392 142h2v1h-2zM405 142h1v1h-1zM538 142h2v1h-2zM542 142h5v1h-5zM628 142h3v1h-3zM635 142h1v1h-1zM637 142h2v1h-2zM717 142h2v1h-2zM280 143h15v1h-15zM345 143h13v1h-13zM369 143h7v1h-7zM380 143h7v1h-7zM389 143h8v1h-8zM402 143h7v1h-7zM535 143h15v1h-15zM625 143h17v1h-17zM714 143h8v1h-8zM283 144h2v1h-2zM288 144h4v1h-4zM348 144h7v1h-7zM372 144h1v1h-1zM383 144h1v1h-1zM392 144h2v1h-2zM405 144h1v1h-1zM538 144h2v1h-2zM542 144h5v1h-5zM628 144h3v1h-3zM635 144h1v1h-1zM637 144h2v1h-2zM717 144h2v1h-2zM283 145h2v1h-2zM288 145h4v1h-4zM348 145h7v1h-7zM372 145h1v1h-1zM383 145h1v1h-1zM392 145h2v1h-2zM405 145h1v1h-1zM538 145h2v1h-2zM542 145h5v1h-5zM628 145h3v1h-3zM635 145h1v1h-1zM637 145h2v1h-2zM717 145h2v1h-2zM280 146h5v1h-5zM288 146h7v1h-7zM340 146h3v1h-3zM346 146h9v1h-9zM372 146h4v1h-4zM382 146h2v1h-2zM392 146h3v1h-3zM403 146h3v1h-3zM538 146h2v1h-2zM542 146h10v1h-10zM613 146h4v1h-4zM627 146h4v1h-4zM635 146h4v1h-4zM717 146h8v1h-8zM280 147h3v1h-3zM292 147h3v1h-3zM340 147h3v1h-3zM346 147h3v1h-3zM372 147h4v1h-4zM382 147h2v1h-2zM393 147h2v1h-2zM403 147h3v1h-3zM545 147h7v1h-7zM613 147h4v1h-4zM627 147h1v1h-1zM635 147h2v1h-2zM719 147h6v1h-6zM280 148h3v1h-3zM292 148h3v1h-3zM340 148h3v1h-3zM346 148h3v1h-3zM372 148h4v1h-4zM382 148h2v1h-2zM393 148h2v1h-2zM403 148h3v1h-3zM545 148h7v1h-7zM613 148h4v1h-4zM627 148h1v1h-1zM635 148h2v1h-2zM719 148h6v1h-6zM277 149h9v1h-9zM289 149h9v1h-9zM337 149h15v1h-15zM369 149h18v1h-18zM390 149h8v1h-8zM400 149h9v1h-9zM542 149h13v1h-13zM610 149h10v1h-10zM624 149h7v1h-7zM632 149h8v1h-8zM716 149h12v1h-12zM280 150h3v1h-3zM292 150h3v1h-3zM340 150h3v1h-3zM346 150h3v1h-3zM372 150h4v1h-4zM382 150h2v1h-2zM393 150h2v1h-2zM403 150h3v1h-3zM545 150h7v1h-7zM613 150h4v1h-4zM627 150h1v1h-1zM635 150h2v1h-2zM719 150h6v1h-6zM280 151h3v1h-3zM292 151h3v1h-3zM340 151h3v1h-3zM346 151h3v1h-3zM372 151h4v1h-4zM382 151h2v1h-2zM393 151h2v1h-2zM403 151h3v1h-3zM545 151h7v1h-7zM613 151h4v1h-4zM627 151h1v1h-1zM635 151h2v1h-2zM719 151h6v1h-6zM242 152h1v1h-1zM278 152h5v1h-5zM292 152h1v1h-1zM296 152h1v1h-1zM337 152h1v1h-1zM341 152h1v1h-1zM343 152h3v1h-3zM347 152h1v1h-1zM372 152h1v1h-1zM403 152h1v1h-1zM405 152h1v1h-1zM545 152h6v1h-6zM552 152h2v1h-2zM556 152h1v1h-1zM607 152h13v1h-13zM622 152h6v1h-6zM635 152h2v1h-2zM719 152h3v1h-3zM724 152h3v1h-3zM241 153h3v1h-3zM278 153h3v1h-3zM336 153h1v1h-1zM339 153h2v1h-2zM344 153h1v1h-1zM346 153h1v1h-1zM402 153h1v1h-1zM551 153h1v1h-1zM553 153h1v1h-1zM555 153h1v1h-1zM607 153h6v1h-6zM616 153h4v1h-4zM622 153h5v1h-5zM725 153h2v1h-2zM241 154h4v1h-4zM278 154h3v1h-3zM294 154h1v1h-1zM338 154h3v1h-3zM343 154h1v1h-1zM345 154h1v1h-1zM374 154h1v1h-1zM382 154h1v1h-1zM401 154h1v1h-1zM551 154h2v1h-2zM556 154h1v1h-1zM607 154h6v1h-6zM616 154h4v1h-4zM622 154h5v1h-5zM239 155h7v1h-7zM275 155h9v1h-9zM291 155h5v1h-5zM299 155h1v1h-1zM334 155h1v1h-1zM337 155h6v1h-6zM344 155h1v1h-1zM346 155h4v1h-4zM371 155h3v1h-3zM375 155h1v1h-1zM381 155h1v1h-1zM383 155h3v1h-3zM392 155h2v1h-2zM400 155h1v1h-1zM402 155h4v1h-4zM548 155h6v1h-6zM555 155h3v1h-3zM559 155h1v1h-1zM604 155h26v1h-26zM721 155h4v1h-4zM727 155h3v1h-3zM241 156h4v1h-4zM278 156h3v1h-3zM294 156h1v1h-1zM338 156h3v1h-3zM343 156h1v1h-1zM345 156h1v1h-1zM374 156h1v1h-1zM382 156h1v1h-1zM401 156h1v1h-1zM551 156h2v1h-2zM556 156h1v1h-1zM607 156h6v1h-6zM616 156h4v1h-4zM622 156h5v1h-5zM241 157h3v1h-3zM278 157h3v1h-3zM336 157h1v1h-1zM339 157h2v1h-2zM344 157h1v1h-1zM346 157h1v1h-1zM402 157h1v1h-1zM551 157h1v1h-1zM553 157h1v1h-1zM555 157h1v1h-1zM607 157h6v1h-6zM616 157h4v1h-4zM622 157h5v1h-5zM725 157h2v1h-2zM238 161h1v1h-1zM256 161h3v1h-3zM298 161h4v1h-4zM397 161h3v1h-3zM733 161h2v1h-2zM235 164h1v1h-1zM306 164h3v1h-3zM321 164h2v1h-2zM758 164h1v1h-1zM231 165h7v1h-7zM249 165h7v1h-7zM257 165h7v1h-7zM271 165h7v1h-7zM306 165h3v1h-3zM321 165h3v1h-3zM329 165h1v1h-1zM331 165h3v1h-3zM377 165h4v1h-4zM397 165h3v1h-3zM561 165h14v1h-14zM591 165h12v1h-12zM730 165h5v1h-5zM758 165h1v1h-1zM231 166h7v1h-7zM249 166h7v1h-7zM257 166h7v1h-7zM271 166h7v1h-7zM306 166h3v1h-3zM321 166h3v1h-3zM329 166h1v1h-1zM331 166h3v1h-3zM377 166h4v1h-4zM397 166h3v1h-3zM561 166h14v1h-14zM591 166h12v1h-12zM730 166h5v1h-5zM758 166h1v1h-1zM228 167h13v1h-13zM246 167h21v1h-21zM268 167h13v1h-13zM303 167h9v1h-9zM318 167h19v1h-19zM374 167h10v1h-10zM394 167h9v1h-9zM558 167h20v1h-20zM588 167h18v1h-18zM727 167h11v1h-11zM755 167h7v1h-7zM231 168h7v1h-7zM249 168h7v1h-7zM257 168h7v1h-7zM271 168h7v1h-7zM306 168h3v1h-3zM321 168h3v1h-3zM329 168h1v1h-1zM331 168h3v1h-3zM377 168h4v1h-4zM397 168h3v1h-3zM561 168h14v1h-14zM591 168h12v1h-12zM730 168h5v1h-5zM758 168h1v1h-1zM231 169h7v1h-7zM249 169h7v1h-7zM257 169h7v1h-7zM271 169h7v1h-7zM306 169h3v1h-3zM321 169h3v1h-3zM329 169h1v1h-1zM331 169h3v1h-3zM377 169h4v1h-4zM397 169h3v1h-3zM561 169h14v1h-14zM591 169h12v1h-12zM730 169h5v1h-5zM758 169h1v1h-1zM139 170h37v1h-37zM181 170h1v1h-1zM185 170h4v1h-4zM190 170h2v1h-2zM193 170h15v1h-15zM212 170h26v1h-26zM249 170h29v1h-29zM306 170h28v1h-28zM377 170h4v1h-4zM397 170h3v1h-3zM561 170h17v1h-17zM580 170h3v1h-3zM586 170h17v1h-17zM730 170h16v1h-16zM751 170h10v1h-10zM139 171h37v1h-37zM181 171h1v1h-1zM185 171h4v1h-4zM190 171h2v1h-2zM193 171h15v1h-15zM212 171h20v1h-20zM233 171h1v1h-1zM254 171h4v1h-4zM263 171h9v1h-9zM306 171h15v1h-15zM322 171h10v1h-10zM399 171h1v1h-1zM566 171h2v1h-2zM574 171h4v1h-4zM580 171h3v1h-3zM586 171h5v1h-5zM734 171h12v1h-12zM751 171h10v1h-10zM139 172h37v1h-37zM181 172h1v1h-1zM185 172h4v1h-4zM190 172h2v1h-2zM193 172h15v1h-15zM212 172h20v1h-20zM233 172h1v1h-1zM254 172h4v1h-4zM263 172h9v1h-9zM306 172h15v1h-15zM322 172h10v1h-10zM399 172h1v1h-1zM566 172h2v1h-2zM574 172h4v1h-4zM580 172h3v1h-3zM586 172h5v1h-5zM734 172h12v1h-12zM751 172h10v1h-10zM136 173h101v1h-101zM251 173h24v1h-24zM303 173h32v1h-32zM396 173h7v1h-7zM563 173h31v1h-31zM731 173h33v1h-33zM139 174h37v1h-37zM181 174h1v1h-1zM185 174h4v1h-4zM190 174h2v1h-2zM193 174h15v1h-15zM212 174h20v1h-20zM233 174h1v1h-1zM254 174h4v1h-4zM263 174h9v1h-9zM306 174h15v1h-15zM322 174h10v1h-10zM399 174h1v1h-1zM566 174h2v1h-2zM574 174h4v1h-4zM580 174h3v1h-3zM586 174h5v1h-5zM734 174h12v1h-12zM751 174h10v1h-10zM139 175h37v1h-37zM181 175h1v1h-1zM185 175h4v1h-4zM190 175h2v1h-2zM193 175h15v1h-15zM212 175h20v1h-20zM233 175h1v1h-1zM254 175h4v1h-4zM263 175h9v1h-9zM306 175h15v1h-15zM322 175h10v1h-10zM399 175h1v1h-1zM566 175h2v1h-2zM574 175h4v1h-4zM580 175h3v1h-3zM586 175h5v1h-5zM734 175h12v1h-12zM751 175h10v1h-10zM139 176h69v1h-69zM212 176h20v1h-20zM233 176h1v1h-1zM254 176h4v1h-4zM263 176h9v1h-9zM306 176h15v1h-15zM322 176h10v1h-10zM399 176h1v1h-1zM566 176h2v1h-2zM574 176h17v1h-17zM734 176h12v1h-12zM751 176h10v1h-10zM140 177h1v1h-1zM142 177h5v1h-5zM148 177h1v1h-1zM150 177h1v1h-1zM153 177h1v1h-1zM170 177h1v1h-1zM172 177h1v1h-1zM174 177h20v1h-20zM577 177h11v1h-11zM752 177h2v1h-2zM756 177h1v1h-1zM140 178h1v1h-1zM142 178h5v1h-5zM148 178h1v1h-1zM150 178h1v1h-1zM153 178h1v1h-1zM170 178h1v1h-1zM172 178h1v1h-1zM174 178h20v1h-20zM577 178h11v1h-11zM752 178h2v1h-2zM756 178h1v1h-1zM137 179h20v1h-20zM167 179h30v1h-30zM574 179h17v1h-17zM749 179h11v1h-11zM140 180h1v1h-1zM142 180h5v1h-5zM148 180h1v1h-1zM150 180h1v1h-1zM153 180h1v1h-1zM170 180h1v1h-1zM172 180h1v1h-1zM174 180h20v1h-20zM577 180h11v1h-11zM752 180h2v1h-2zM756 180h1v1h-1zM140 181h1v1h-1zM142 181h5v1h-5zM148 181h1v1h-1zM150 181h1v1h-1zM153 181h1v1h-1zM170 181h1v1h-1zM172 181h1v1h-1zM174 181h20v1h-20zM577 181h11v1h-11zM752 181h2v1h-2zM756 181h1v1h-1zM140 182h1v1h-1zM142 182h5v1h-5zM148 182h1v1h-1zM150 182h1v1h-1zM153 182h1v1h-1zM170 182h1v1h-1zM172 182h1v1h-1zM174 182h20v1h-20zM577 182h11v1h-11zM752 182h2v1h-2zM756 182h1v1h-1z"/><path fill="#009E73" d="M883 87h1v1h-1zM889 87h1v1h-1zM884 88h1v1h-1zM888 88h1v1h-1zM885 89h1v1h-1zM887 89h1v1h-1zM886 90h1v1h-1zM885 91h1v1h-1zM887 91h1v1h-1zM884 92h1v1h-1zM888 92h1v1h-1zM883 93h1v1h-1zM889 93h1v1h-1zM176 146h1v1h-1zM182 146h1v1h-1zM177 147h1v1h-1zM181 147h1v1h-1zM178 148h1v1h-1zM180 148h1v1h-1zM179 149h1v1h-1zM178 150h1v1h-1zM180 150h1v1h-1zM177 151h1v1h-1zM181 151h1v1h-1zM136 152h103v1h-103zM240 152h2v1h-2zM243 152h33v1h-33zM293 152h3v1h-3zM299 152h3v1h-3zM303 152h34v1h-34zM338 152h3v1h-3zM342 152h1v1h-1zM346 152h1v1h-1zM348 152h1v1h-1zM371 152h1v1h-1zM373 152h5v1h-5zM379 152h5v1h-5zM385 152h1v1h-1zM391 152h12v1h-12zM404 152h1v1h-1zM551 152h1v1h-1zM555 152h1v1h-1zM557 152h1v1h-1zM559 152h5v1h-5zM565 152h2v1h-2zM568 152h2v1h-2zM571 152h26v1h-26zM599 152h2v1h-2zM602 152h1v1h-1zM722 152h2v1h-2zM728 152h36v1h-36zM137 153h101v1h-101zM239 153h2v1h-2zM244 153h31v1h-31zM294 153h3v1h-3zM298 153h3v1h-3zM304 153h32v1h-32zM337 153h2v1h-2zM341 153h1v1h-1zM343 153h1v1h-1zM345 153h1v1h-1zM347 153h1v1h-1zM372 153h1v1h-1zM374 153h9v1h-9zM384 153h1v1h-1zM392 153h10v1h-10zM403 153h1v1h-1zM552 153h1v1h-1zM556 153h1v1h-1zM560 153h2v1h-2zM563 153h8v1h-8zM573 153h23v1h-23zM597 153h3v1h-3zM601 153h1v1h-1zM723 153h2v1h-2zM727 153h21v1h-21zM749 153h14v1h-14zM138 154h71v1h-71zM211 154h29v1h-29zM245 154h29v1h-29zM295 154h5v1h-5zM305 154h16v1h-16zM323 154h15v1h-15zM342 154h1v1h-1zM344 154h1v1h-1zM346 154h1v1h-1zM373 154h1v1h-1zM375 154h7v1h-7zM383 154h1v1h-1zM393 154h8v1h-8zM402 154h1v1h-1zM553 154h1v1h-1zM555 154h1v1h-1zM557 154h1v1h-1zM559 154h1v1h-1zM561 154h7v1h-7zM569 154h2v1h-2zM572 154h1v1h-1zM574 154h25v1h-25zM600 154h1v1h-1zM724 154h4v1h-4zM730 154h17v1h-17zM750 154h12v1h-12zM139 155h69v1h-69zM212 155h24v1h-24zM237 155h2v1h-2zM246 155h13v1h-13zM260 155h13v1h-13zM296 155h3v1h-3zM306 155h14v1h-14zM324 155h10v1h-10zM335 155h2v1h-2zM343 155h1v1h-1zM345 155h1v1h-1zM374 155h1v1h-1zM376 155h5v1h-5zM382 155h1v1h-1zM394 155h6v1h-6zM401 155h1v1h-1zM554 155h1v1h-1zM558 155h1v1h-1zM562 155h2v1h-2zM565 155h2v1h-2zM568 155h1v1h-1zM571 155h1v1h-1zM575 155h19v1h-19zM596 155h2v1h-2zM599 155h1v1h-1zM725 155h2v1h-2zM731 155h15v1h-15zM751 155h10v1h-10zM138 156h71v1h-71zM211 156h29v1h-29zM245 156h29v1h-29zM295 156h5v1h-5zM305 156h16v1h-16zM323 156h15v1h-15zM342 156h1v1h-1zM344 156h1v1h-1zM346 156h1v1h-1zM373 156h1v1h-1zM375 156h7v1h-7zM383 156h1v1h-1zM393 156h8v1h-8zM402 156h1v1h-1zM553 156h1v1h-1zM555 156h1v1h-1zM557 156h1v1h-1zM559 156h1v1h-1zM561 156h7v1h-7zM569 156h2v1h-2zM572 156h1v1h-1zM574 156h25v1h-25zM600 156h1v1h-1zM724 156h4v1h-4zM730 156h17v1h-17zM750 156h12v1h-12zM137 157h101v1h-101zM239 157h2v1h-2zM244 157h31v1h-31zM294 157h3v1h-3zM298 157h3v1h-3zM304 157h32v1h-32zM337 157h2v1h-2zM341 157h1v1h-1zM343 157h1v1h-1zM345 157h1v1h-1zM347 157h1v1h-1zM372 157h1v1h-1zM374 157h9v1h-9zM384 157h1v1h-1zM392 157h10v1h-10zM403 157h1v1h-1zM552 157h1v1h-1zM556 157h1v1h-1zM560 157h2v1h-2zM563 157h8v1h-8zM573 157h23v1h-23zM597 157h3v1h-3zM601 157h1v1h-1zM723 157h2v1h-2zM727 157h21v1h-21zM749 157h14v1h-14zM136 158h166v1h-166zM303 158h109v1h-109zM418 158h5v1h-5zM424 158h5v1h-5zM523 158h2v1h-2zM529 158h2v1h-2zM532 158h5v1h-5zM538 158h97v1h-97zM637 158h4v1h-4zM708 158h56v1h-56zM229 159h1v1h-1zM232 159h24v1h-24zM257 159h11v1h-11zM269 159h31v1h-31zM318 159h93v1h-93zM419 159h9v1h-9zM524 159h2v1h-2zM528 159h2v1h-2zM533 159h44v1h-44zM589 159h42v1h-42zM632 159h8v1h-8zM709 159h26v1h-26zM755 159h1v1h-1zM759 159h1v1h-1zM230 160h1v1h-1zM232 160h23v1h-23zM256 160h1v1h-1zM258 160h9v1h-9zM270 160h29v1h-29zM319 160h7v1h-7zM327 160h71v1h-71zM399 160h11v1h-11zM420 160h7v1h-7zM525 160h4v1h-4zM534 160h42v1h-42zM590 160h49v1h-49zM710 160h24v1h-24zM756 160h1v1h-1zM758 160h1v1h-1zM231 161h1v1h-1zM234 161h4v1h-4zM239 161h15v1h-15zM255 161h1v1h-1zM259 161h7v1h-7zM271 161h14v1h-14zM287 161h11v1h-11zM320 161h4v1h-4zM326 161h1v1h-1zM328 161h36v1h-36zM365 161h22v1h-22zM389 161h8v1h-8zM400 161h9v1h-9zM421 161h5v1h-5zM526 161h2v1h-2zM535 161h5v1h-5zM541 161h34v1h-34zM591 161h38v1h-38zM630 161h2v1h-2zM634 161h4v1h-4zM711 161h22v1h-22zM757 161h1v1h-1zM230 162h1v1h-1zM232 162h23v1h-23zM256 162h1v1h-1zM258 162h9v1h-9zM270 162h29v1h-29zM319 162h7v1h-7zM327 162h71v1h-71zM399 162h11v1h-11zM420 162h7v1h-7zM525 162h4v1h-4zM534 162h42v1h-42zM590 162h49v1h-49zM710 162h24v1h-24zM756 162h1v1h-1zM758 162h1v1h-1zM229 163h1v1h-1zM232 163h24v1h-24zM257 163h11v1h-11zM269 163h31v1h-31zM318 163h93v1h-93zM419 163h9v1h-9zM524 163h2v1h-2zM528 163h2v1h-2zM533 163h44v1h-44zM589 163h42v1h-42zM632 163h8v1h-8zM709 163h26v1h-26zM755 163h1v1h-1zM759 163h1v1h-1zM228 164h1v1h-1zM231 164h4v1h-4zM236 164h65v1h-65zM317 164h4v1h-4zM323 164h129v1h-129zM512 164h1v1h-1zM514 164h64v1h-64zM588 164h59v1h-59zM701 164h35v1h-35zM754 164h1v1h-1zM760 164h1v1h-1zM279 165h12v1h-12zM355 165h1v1h-1zM358 165h8v1h-8zM383 165h10v1h-10zM406 165h45v1h-45zM513 165h1v1h-1zM515 165h30v1h-30zM546 165h2v1h-2zM626 165h20v1h-20zM702 165h13v1h-13zM717 165h1v1h-1zM280 166h10v1h-10zM356 166h1v1h-1zM358 166h7v1h-7zM384 166h8v1h-8zM407 166h43v1h-43zM514 166h1v1h-1zM516 166h31v1h-31zM627 166h18v1h-18zM703 166h12v1h-12zM716 166h1v1h-1zM281 167h8v1h-8zM357 167h1v1h-1zM360 167h4v1h-4zM385 167h6v1h-6zM408 167h6v1h-6zM415 167h21v1h-21zM437 167h12v1h-12zM515 167h1v1h-1zM517 167h21v1h-21zM539 167h4v1h-4zM544 167h2v1h-2zM628 167h8v1h-8zM637 167h7v1h-7zM704 167h9v1h-9zM715 167h1v1h-1zM280 168h10v1h-10zM356 168h1v1h-1zM358 168h7v1h-7zM384 168h8v1h-8zM407 168h43v1h-43zM514 168h1v1h-1zM516 168h31v1h-31zM627 168h18v1h-18zM703 168h12v1h-12zM716 168h1v1h-1zM279 169h12v1h-12zM355 169h1v1h-1zM358 169h8v1h-8zM383 169h10v1h-10zM406 169h45v1h-45zM513 169h1v1h-1zM515 169h30v1h-30zM546 169h2v1h-2zM626 169h20v1h-20zM702 169h13v1h-13zM717 169h1v1h-1zM278 170h14v1h-14zM354 170h1v1h-1zM357 170h4v1h-4zM363 170h4v1h-4zM382 170h12v1h-12zM405 170h62v1h-62zM468 170h3v1h-3zM472 170h1v1h-1zM474 170h2v1h-2zM481 170h1v1h-1zM483 170h1v1h-1zM487 170h1v1h-1zM489 170h1v1h-1zM497 170h49v1h-49zM547 170h2v1h-2zM625 170h49v1h-49zM675 170h1v1h-1zM678 170h38v1h-38zM718 170h1v1h-1zM413 171h3v1h-3zM417 171h3v1h-3zM431 171h2v1h-2zM435 171h10v1h-10zM446 171h20v1h-20zM467 171h5v1h-5zM473 171h2v1h-2zM482 171h1v1h-1zM484 171h1v1h-1zM486 171h1v1h-1zM488 171h1v1h-1zM498 171h22v1h-22zM641 171h32v1h-32zM674 171h1v1h-1zM678 171h30v1h-30zM414 172h5v1h-5zM432 172h12v1h-12zM445 172h1v1h-1zM447 172h22v1h-22zM470 172h4v1h-4zM483 172h1v1h-1zM485 172h1v1h-1zM487 172h1v1h-1zM499 172h20v1h-20zM642 172h30v1h-30zM673 172h1v1h-1zM675 172h1v1h-1zM677 172h1v1h-1zM680 172h27v1h-27zM415 173h3v1h-3zM433 173h2v1h-2zM437 173h6v1h-6zM444 173h1v1h-1zM448 173h16v1h-16zM465 173h3v1h-3zM469 173h1v1h-1zM471 173h2v1h-2zM484 173h1v1h-1zM486 173h1v1h-1zM500 173h18v1h-18zM643 173h28v1h-28zM672 173h1v1h-1zM676 173h1v1h-1zM681 173h25v1h-25zM414 174h5v1h-5zM432 174h12v1h-12zM445 174h1v1h-1zM447 174h22v1h-22zM470 174h4v1h-4zM483 174h1v1h-1zM485 174h1v1h-1zM487 174h1v1h-1zM499 174h20v1h-20zM642 174h30v1h-30zM673 174h1v1h-1zM675 174h1v1h-1zM677 174h1v1h-1zM680 174h27v1h-27zM413 175h3v1h-3zM417 175h3v1h-3zM431 175h2v1h-2zM435 175h10v1h-10zM446 175h20v1h-20zM467 175h5v1h-5zM473 175h2v1h-2zM482 175h1v1h-1zM484 175h1v1h-1zM486 175h1v1h-1zM488 175h1v1h-1zM498 175h22v1h-22zM641 175h32v1h-32zM674 175h1v1h-1zM678 175h30v1h-30zM412 176h3v1h-3zM418 176h3v1h-3zM430 176h2v1h-2zM434 176h42v1h-42zM477 176h44v1h-44zM640 176h69v1h-69zM453 177h8v1h-8zM462 177h3v1h-3zM466 177h9v1h-9zM478 177h19v1h-19zM667 177h17v1h-17zM685 177h1v1h-1zM690 177h2v1h-2zM694 177h2v1h-2zM454 178h20v1h-20zM479 178h17v1h-17zM668 178h15v1h-15zM684 178h1v1h-1zM691 178h4v1h-4zM455 179h4v1h-4zM460 179h2v1h-2zM464 179h3v1h-3zM468 179h5v1h-5zM480 179h15v1h-15zM669 179h13v1h-13zM683 179h1v1h-1zM692 179h2v1h-2zM454 180h20v1h-20zM479 180h17v1h-17zM668 180h15v1h-15zM684 180h1v1h-1zM691 180h4v1h-4zM453 181h8v1h-8zM462 181h3v1h-3zM466 181h9v1h-9zM478 181h19v1h-19zM667 181h17v1h-17zM685 181h1v1h-1zM690 181h2v1h-2zM694 181h2v1h-2zM452 182h4v1h-4zM457 182h13v1h-13zM471 182h5v1h-5zM477 182h21v1h-21zM666 182h19v1h-19zM686 182h1v1h-1zM689 182h2v1h-2zM695 182h2v1h-2z"/><path fill="#E51E10" d="M886 187h1v1h-1zM884 188h5v1h-5zM884 189h5v1h-5zM883 190h7v1h-7zM884 191h5v1h-5zM884 192h5v1h-5zM886 193h1v1h-1zM137 533h1v1h-1zM209 533h2v1h-2zM300 533h1v1h-1zM304 533h1v1h-1zM474 533h1v1h-1zM478 533h1v1h-1zM496 533h1v1h-1zM498 533h1v1h-1zM747 533h1v1h-1zM749 533h1v1h-1zM762 533h1v1h-1zM139 538h69v1h-69zM212 538h87v1h-87zM306 538h58v1h-58zM365 538h49v1h-49zM415 538h21v1h-21zM437 538h36v1h-36zM480 538h15v1h-15zM500 538h246v1h-246zM751 538h10v1h-10z"/><path fill="#F0E442" d="M883 147h7v1h-7zM883 148h7v1h-7zM883 149h7v1h-7zM883 150h7v1h-7zM883 151h7v1h-7zM883 152h7v1h-7zM883 153h7v1h-7zM136 532h2v1h-2zM209 532h2v1h-2zM300 532h2v1h-2zM303 532h2v1h-2zM474 532h2v1h-2zM477 532h2v1h-2zM496 532h3v1h-3zM747 532h3v1h-3zM762 532h2v1h-2zM136 533h1v1h-1zM301 533h1v1h-1zM303 533h1v1h-1zM475 533h1v1h-1zM477 533h1v1h-1zM497 533h1v1h-1zM748 533h1v1h-1zM763 533h1v1h-1zM136 534h1v1h-1zM301 534h1v1h-1zM303 534h1v1h-1zM475 534h1v1h-1zM477 534h1v1h-1zM497 534h1v1h-1zM748 534h1v1h-1zM763 534h1v1h-1zM136 538h3v1h-3zM208 538h4v1h-4zM299 538h3v1h-3zM303 538h3v1h-3zM364 538h1v1h-1zM414 538h1v1h-1zM436 538h1v1h-1zM473 538h3v1h-3zM477 538h3v1h-3zM495 538h5v1h-5zM746 538h5v1h-5zM761 538h3v1h-3z"/><path fill="#56B4E9" d="M883 107h1v1h-1zM886 107h1v1h-1zM889 107h1v1h-1zM884 108h1v1h-1zM886 108h1v1h-1zM888 108h1v1h-1zM885 109h3v1h-3zM883 110h7v1h-7zM885 111h3v1h-3zM884 112h1v1h-1zM886 112h1v1h-1zM888 112h1v1h-1zM883 113h1v1h-1zM886 113h1v1h-1zM889 113h1v1h-1z"/><path fill="#E69F00" d="M883 127h7v1h-7zM883 128h1v1h-1zM889 128h1v1h-1zM883 129h1v1h-1zM889 129h1v1h-1zM883 130h1v1h-1zM889 130h1v1h-1zM883 131h1v1h-1zM889 131h1v1h-1zM883 132h1v1h-1zM889 132h1v1h-1zM883 133h7v1h-7z"/><path fill="#0072B2" d="M886 167h1v1h-1zM884 168h5v1h-5zM884 169h1v1h-1zM888 169h1v1h-1zM883 170h2v1h-2zM888 170h2v1h-2zM884 171h1v1h-1zM888 171h1v1h-1zM884 172h5v1h-5zM886 173h1v1h-1z"/></svg>
<div class="t" style="left:288px;top:20px">PIPE VII, VIII, V</div>
<div class="t" style="left:415px;top:20px">VI Voltages from PDU</div>
<div class="t" style="left:587px;top:20px">DS</div>
<div class="t r" style="left:0;width:94px;top:50px">0.8</div>
<div class="t r" style="left:0;width:94px;top:109px">0.7</div>
<div class="t r" style="left:0;width:94px;top:169px">0.6</div>
<div class="t r" style="left:0;width:94px;top:228px">0.5</div>
<div class="t r" style="left:0;width:94px;top:287px">0.4</div>
<div class="t r" style="left:0;width:94px;top:347px">0.3</div>
<div class="t r" style="left:0;width:94px;top:406px">0.2</div>
<div class="t r" style="left:0;width:94px;top:466px">0.1</div>
<div class="t r" style="left:0;width:94px;top:525px">0</div>
<div class="t c" style="left:58px;width:100px;top:545px">Apr 26</div>
<div class="t c" style="left:201px;width:100px;top:545px">May 03</div>
<div class="t c" style="left:346px;width:100px;top:545px">May 10</div>
<div class="t c" style="left:491px;width:100px;top:545px">May 17</div>
<div class="t c" style="left:636px;width:100px;top:545px">May 24</div>
<div class="t c" style="left:347px;width:200px;top:575px">Local time (mm-dd)</div>
<div class="t c" style="left:-60px;width:200px;top:290px;transform:rotate(-90deg);transform-origin:50% 50%">Voltage (V)</div>
<div class="t r lg" style="left:700px;width:170px;top:60px">P7Disk</div>
<div class="t r lg" style="left:700px;width:170px;top:80px">P7Computer</div>
<div class="t r lg" style="left:700px;width:170px;top:100px">P8Disk</div>
<div class="t r lg" style="left:700px;width:170px;top:120px">P8Computer</div>
<div class="t r lg" style="left:700px;width:170px;top:140px">P5Disk</div>
<div class="t r lg" style="left:700px;width:170px;top:160px">P5Computer</div>
<div class="t r lg" style="left:700px;width:170px;top:180px">P6Disk</div>
<div class="t r lg" style="left:700px;width:170px;top:200px">P6Computer</div>

</body></html>
